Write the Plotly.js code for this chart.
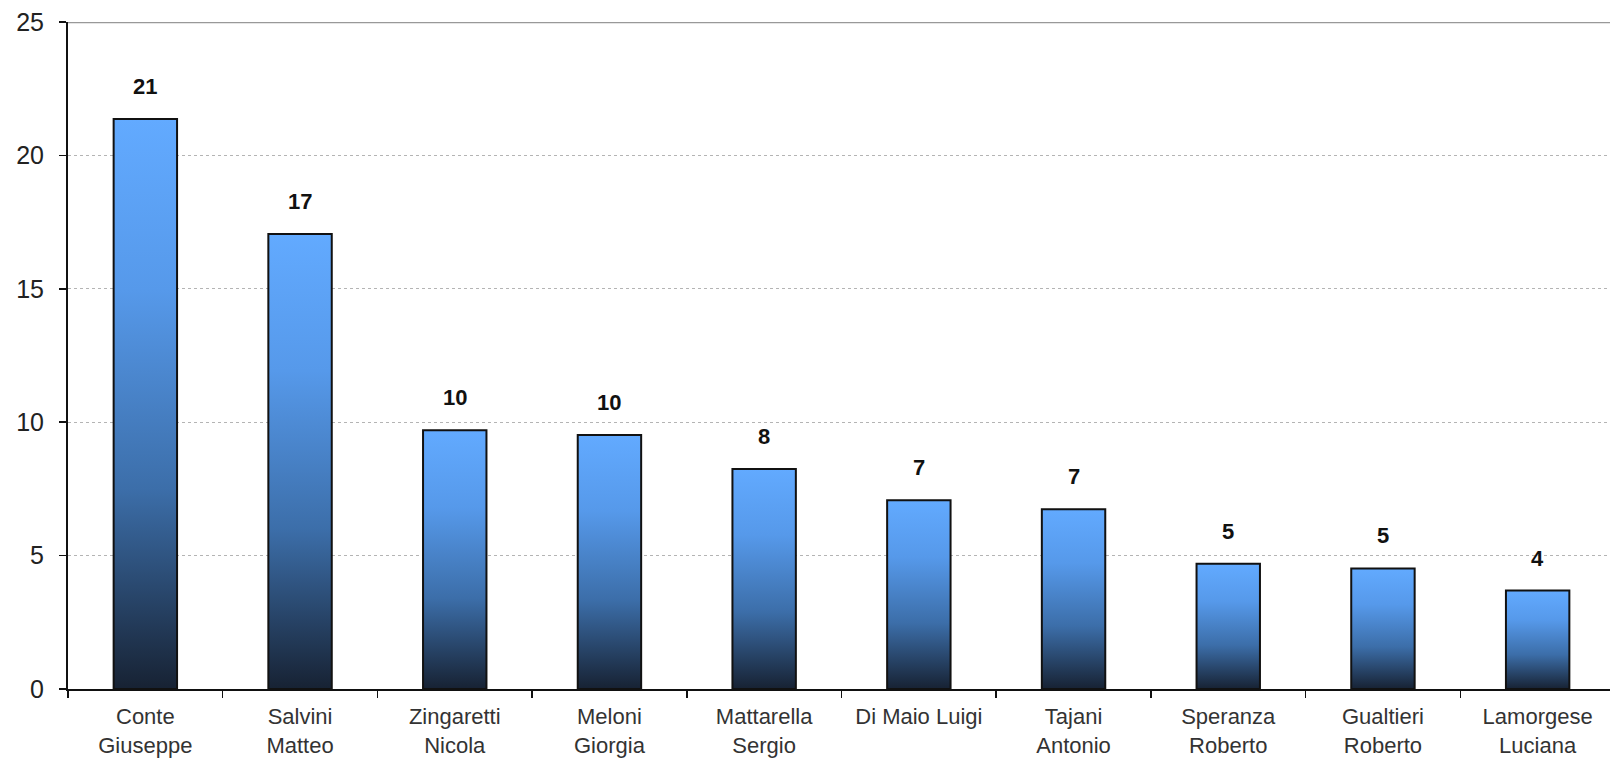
<!DOCTYPE html>
<html>
<head>
<meta charset="utf-8">
<script src="https://cdn.plot.ly/plotly-3.0.1.min.js"></script>
<style>
  html, body { margin: 0; padding: 0; background: #fff; overflow: hidden; width: 1610px; height: 762px; }
  #chart { width: 1620px; height: 762px; }
</style>
</head>
<body>
<div id="chart"></div>
<script>
// ---- data ----
const categories = [
  "Conte<br>Giuseppe", "Salvini<br>Matteo", "Zingaretti<br>Nicola", "Meloni<br>Giorgia",
  "Mattarella<br>Sergio", "Di Maio Luigi", "Tajani<br>Antonio", "Speranza<br>Roberto",
  "Gualtieri<br>Roberto", "Lamorgese<br>Luciana"
];
const values = [21.36, 17.05, 9.70, 9.52, 8.25, 7.07, 6.74, 4.69, 4.52, 3.69];
const valueLabels = ["21", "17", "10", "10", "8", "7", "7", "5", "5", "4"];
const yTicks = [0, 5, 10, 15, 20, 25];

const FONT = "Liberation Sans, Arial, Helvetica, sans-serif";

const trace = {
  type: "bar",
  x: categories,
  y: values,
  width: 0.41,
  marker: { color: "#4a8ad6", line: { color: "#111", width: 2 } },
  hoverinfo: "skip"
};

const annotations = categories.map((c, i) => ({
  x: c, y: values[i], text: valueLabels[i],
  xref: "x", yref: "y", showarrow: false,
  yanchor: "bottom", yshift: 18,
  font: { family: FONT, size: 22, color: "#111", weight: "bold" }
}));

const layout = {
  width: 1620, height: 762,
  margin: { l: 68, r: 5, t: 22, b: 73 },
  paper_bgcolor: "#fff", plot_bgcolor: "#fff",
  showlegend: false,
  font: { family: FONT },
  xaxis: {
    type: "category",
    showline: true, linecolor: "#111", linewidth: 2,
    ticks: "outside", ticklen: 7, tickcolor: "#111", tickwidth: 1.5,
    tickson: "boundaries",
    ticklabelstandoff: 7,
    showgrid: false, zeroline: false,
    tickfont: { family: FONT, size: 22, color: "#333" }
  },
  yaxis: {
    range: [0, 25], tickvals: yTicks, ticktext: yTicks.map(String),
    showline: true, linecolor: "#111", linewidth: 2,
    ticks: "outside", ticklen: 7, tickcolor: "#111", tickwidth: 1.5,
    ticklabelstandoff: 10,
    showgrid: true, gridcolor: "#b4b4b4", griddash: "dot", gridwidth: 1,
    zeroline: false,
    tickfont: { family: FONT, size: 25, color: "#222" }
  },
  shapes: [{
    type: "line", xref: "paper", yref: "y", x0: 0, x1: 1, y0: 25, y1: 25,
    line: { color: "#999", width: 2.5 }
  }],
  annotations: annotations
};

Plotly.newPlot("chart", [trace], layout, { staticPlot: true, displayModeBar: false }).then(gd => {
  const svg = gd.querySelector(".main-svg");
  const ns = "http://www.w3.org/2000/svg";
  let defs = svg.querySelector("defs");
  if (!defs) { defs = document.createElementNS(ns, "defs"); svg.insertBefore(defs, svg.firstChild); }
  const grad = document.createElementNS(ns, "linearGradient");
  grad.setAttribute("id", "barGrad");
  grad.setAttribute("x1", "0"); grad.setAttribute("y1", "0");
  grad.setAttribute("x2", "0"); grad.setAttribute("y2", "1");
  [["0%", "#62aaff"], ["30%", "#5699ea"], ["65%", "#3c6ea9"], ["100%", "#172233"]].forEach(([o, c]) => {
    const s = document.createElementNS(ns, "stop");
    s.setAttribute("offset", o); s.setAttribute("stop-color", c);
    grad.appendChild(s);
  });
  defs.appendChild(grad);
  gd.querySelectorAll(".bars .point path").forEach(p => { p.style.fill = "url(#barGrad)"; });
});
</script>
</body>
</html>
